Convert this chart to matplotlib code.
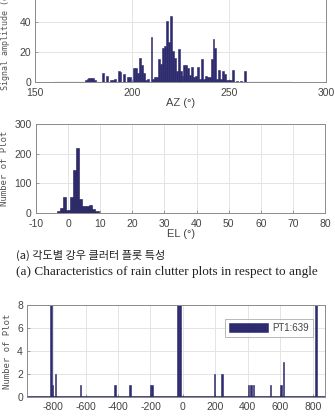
import matplotlib
matplotlib.use("Agg")
import matplotlib.pyplot as plt

# azimuth bins (deg) and signal amplitude (dB)
az = [176, 177, 178, 179, 180, 181, 185, 187, 189, 190, 191, 193, 194, 196,
      198, 199, 201, 202, 203, 204, 205, 206, 207, 208, 210, 211, 212, 213,
      214, 215, 216, 217, 218, 219, 220, 221, 222, 223, 224, 225, 226, 227,
      228, 229, 230, 231, 232, 233, 234, 235, 236, 237, 238, 239, 240, 241,
      242, 243, 244, 245, 246, 247, 248, 249, 250, 251, 252, 254, 256, 258]
amp = [1.5, 2, 2.5, 2.5, 2.5, 1, 6, 4, 1, 1, 2, 7, 6.5, 5,
       3, 3, 9, 9, 6, 16, 11, 6, 1, 2, 30, 2, 3, 3,
       15, 12, 23, 24, 41, 27, 44, 21, 16, 7, 22, 7, 4, 11,
       11, 9, 4.5, 10, 3, 4, 10, 2, 15, 2, 4, 3.5, 3.5, 15,
       29, 23, 2, 8, 2, 7, 5, 1.5, 1, 1, 8, 0.5, 0.5, 7]
az_span = (159, 282)

# elevation histogram
el = [-3, -2, -1, 0, 1, 2, 3, 4, 5, 6, 7, 8, 9]
el_n = [6, 18, 53, 9, 53, 144, 220, 48, 22, 22, 26, 14, 6]

# PT1 histogram
pt_x = [-814, -804, -785, -631, -417, -328, -200, -190, -30, -20,
        195, 242, 405, 420, 435, 540, 605, 620, 820]
pt_n = [210, 1, 2, 1, 1, 1, 1, 1, 150, 140,
        2, 2, 1, 1, 1, 1, 1, 3, 119]

navy = "#2d2b6e"
grid_c = "#e4e4e4"
spine_c = "#8a8a8a"
tick_c = "#444444"

plt.rcParams["font.family"] = ["Liberation Sans", "DejaVu Sans"]
plt.rcParams["axes.unicode_minus"] = False


def style(ax):
    ax.grid(True, color=grid_c, linewidth=0.7)
    ax.set_axisbelow(True)
    for s in ax.spines.values():
        s.set_color(spine_c)
        s.set_linewidth(0.7)
    ax.tick_params(direction="in", length=2, width=0.6, colors=spine_c,
                   labelcolor=tick_c, labelsize=7.5, pad=3)
    ax.tick_params(axis="x", pad=4)


fig = plt.figure(figsize=(3.35, 4.16), dpi=100)

# (top) AZ vs amplitude, top of the axes runs off the page
ax1 = fig.add_axes([0.105, 0.803, 0.868, 0.216])
ax1.bar(az, amp, width=1.0, color=navy, edgecolor=navy, linewidth=0.4)
ax1.hlines(0, az_span[0], az_span[1], color=navy, linewidth=0.8)
ax1.set_xlim(150, 300)
ax1.set_ylim(0, 60)
ax1.set_xticks([150, 200, 250, 300])
ax1.set_yticks([0, 20, 40, 60])
ax1.set_yticklabels(["0", "20", "40", ""])
style(ax1)
ax1.set_xlabel("AZ (°)", fontsize=8, color=tick_c, labelpad=0)
ax1.set_ylabel("Signal amplitude (dB)", fontsize=6, color="#555555",
               family="DejaVu Sans Mono", labelpad=7)

# (middle) EL histogram
ax2 = fig.add_axes([0.107, 0.488, 0.864, 0.214])
ax2.bar(el, el_n, width=1.0, color=navy, edgecolor="#1e1d50", linewidth=0.4)
ax2.set_xlim(-10, 80)
ax2.set_ylim(0, 300)
ax2.set_xticks(range(-10, 81, 10))
ax2.set_yticks([0, 100, 200, 300])
style(ax2)
ax2.set_xlabel("EL (°)", fontsize=8, color=tick_c, labelpad=0)
ax2.set_ylabel("Number of Plot", fontsize=6.5, color="#555555",
               family="DejaVu Sans Mono", labelpad=4)

# captions
fig.text(0.048, 0.387, "(a) 각도별 강우 클러터 플롯 특성", fontsize=8,
         family=["Noto Sans CJK KR", "DejaVu Sans"], color="#222222",
         va="center")
fig.text(0.048, 0.346, "(a) Characteristics of rain clutter plots in respect to angle",
         fontsize=9.5, family="Liberation Serif", color="#222222", va="center")

# (bottom) PT1 histogram
ax3 = fig.add_axes([0.081, 0.046, 0.889, 0.221])
ax3.bar(pt_x, pt_n, width=10, color=navy, edgecolor=navy, linewidth=0.4,
        label=f"PT1:{sum(pt_n)}")
ax3.axhline(0, color=navy, linewidth=1.2)
ax3.set_xlim(-960, 875)
ax3.set_ylim(0, 8)
ax3.set_xticks(range(-800, 801, 200))
ax3.set_yticks([0, 2, 4, 6, 8])
style(ax3)
ax3.set_ylabel("Number of Plot", fontsize=6.5, color="#555555",
               family="DejaVu Sans Mono", labelpad=4)
leg = ax3.legend(loc="upper right", bbox_to_anchor=(0.975, 0.90),
                 fontsize=7, frameon=True, fancybox=False,
                 handlelength=4.0, handleheight=0.9, borderpad=0.4,
                 handletextpad=0.4)
leg.get_frame().set_edgecolor("#999999")
leg.get_frame().set_linewidth(0.6)
for t in leg.get_texts():
    t.set_color(tick_c)

fig.savefig("out.png", dpi=100)
